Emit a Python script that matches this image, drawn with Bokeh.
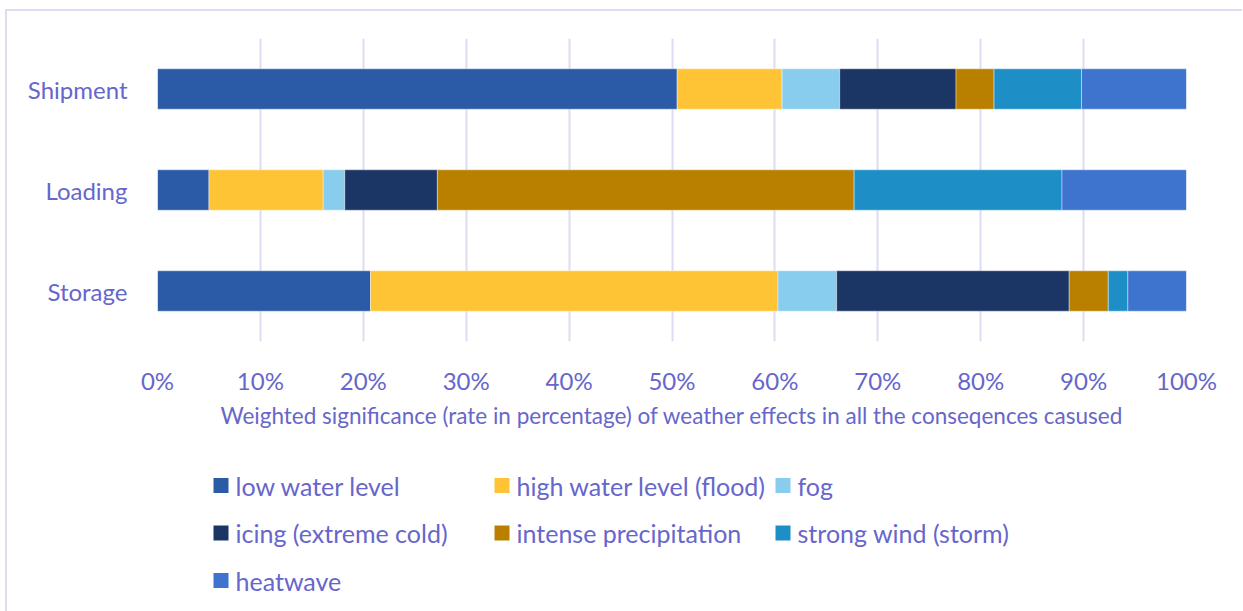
from bokeh.plotting import figure
from bokeh.layouts import column
from bokeh.models import ColumnDataSource, FactorRange, Range1d, FixedTicker, CustomJSTickFormatter
from bokeh.core.properties import value
from bokeh.embed import file_html
from bokeh.resources import INLINE

# Stages of the transport chain (bottom to top)
categories = ["Storage", "Loading", "Shipment"]

# Weighted share (%) of each weather effect per stage
low_water = [20.7, 5.0, 50.5]
high_water = [39.6, 11.1, 10.2]
fog = [5.7, 2.1, 5.6]
icing = [22.6, 9.0, 11.3]
intense_precip = [3.8, 40.5, 3.7]
strong_wind = [1.9, 20.2, 8.5]
heatwave = [5.7, 12.1, 10.2]

series_names = ["low water level", "high water level (flood)", "fog",
                "icing (extreme cold)", "intense precipitation",
                "strong wind (storm)", "heatwave"]
series_keys = ["low", "high", "fog", "icing", "precip", "wind", "heat"]
series_colors = ["#2B5BA7", "#FFC336", "#89CDEE", "#1B3564",
                 "#B98000", "#1E8FC6", "#3E73CE"]

x_ticks = [0, 10, 20, 30, 40, 50, 60, 70, 80, 90, 100]

TEXT = "#6666CC"
GRID = "#DCDCF2"
FONT = "Lato"

source = ColumnDataSource(dict(
    cat=categories, low=low_water, high=high_water, fog=fog, icing=icing,
    precip=intense_precip, wind=strong_wind, heat=heatwave,
))

p = figure(
    width=1235, height=440,
    y_range=FactorRange(factors=categories, range_padding=0),
    x_range=Range1d(0, 100),
    output_backend="svg", toolbar_location=None,
    min_border_left=150, min_border_right=56,
    min_border_top=27, min_border_bottom=110,
)
p.outline_line_color = None
p.background_fill_color = "white"
p.border_fill_color = "white"

p.hbar_stack(series_keys, y="cat", height=0.4, color=series_colors,
             line_color="white", line_width=0.8, line_alpha=0.5,
             source=source)

# Horizontal value axis
p.xaxis.ticker = FixedTicker(ticks=x_ticks)
p.xaxis.formatter = CustomJSTickFormatter(code="return tick.toFixed(0) + '%';")
p.xaxis.axis_line_color = None
p.xaxis.major_tick_line_color = None
p.xaxis.minor_tick_line_color = None
p.xaxis.major_tick_out = 0
p.xaxis.major_tick_in = 0
p.xaxis.major_label_standoff = 24
p.xaxis.major_label_text_font = FONT
p.xaxis.major_label_text_font_size = "24px"
p.xaxis.major_label_text_color = TEXT
p.xaxis.axis_label = "Weighted significance (rate in percentage) of weather effects in all the conseqences casused"
p.xaxis.axis_label_text_font = FONT
p.xaxis.axis_label_text_font_size = "22.5px"
p.xaxis.axis_label_text_font_style = "normal"
p.xaxis.axis_label_text_color = TEXT
p.xaxis.axis_label_standoff = 4

# Category axis
p.yaxis.axis_line_color = None
p.yaxis.major_tick_line_color = None
p.yaxis.major_tick_out = 0
p.yaxis.major_tick_in = 0
p.yaxis.major_label_standoff = 30
p.yaxis.major_label_text_font = FONT
p.yaxis.major_label_text_font_size = "24px"
p.yaxis.major_label_text_color = TEXT

p.ygrid.grid_line_color = None
p.xgrid.grid_line_color = GRID
p.xgrid.grid_line_width = 2

# Legend panel: three columns of swatches with labels.
# Its frame lines up with the chart frame above (page x 158..1187),
# so the ranges are set to page pixel coordinates.
lg = figure(
    width=1235, height=160,
    x_range=Range1d(158, 1187), y_range=Range1d(611, 451),
    output_backend="svg", toolbar_location=None,
    min_border_left=150, min_border_right=56, min_border_top=0, min_border_bottom=0,
)
lg.axis.visible = False
lg.grid.visible = False
lg.outline_line_color = None
lg.background_fill_color = "white"
lg.border_fill_color = "white"

ncols = 3
sw_x, sw_y, txt_x = [], [], []
for i in range(len(series_names)):
    r, c = divmod(i, ncols)
    sw_x.append(221.5 + 281 * c)
    sw_y.append(485 + 47.5 * r)
    txt_x.append(236 + 281 * c)

leg_src = ColumnDataSource(dict(sx=sw_x, sy=sw_y, tx=txt_x,
                                name=series_names, color=series_colors))
lg.rect(x="sx", y="sy", width=15, height=15, width_units="screen",
        height_units="screen", fill_color="color", line_color=None,
        source=leg_src)
lg.text(x="tx", y="sy", text="name", text_font=value(FONT),
        text_font_size="25px", text_color=TEXT, text_baseline="middle",
        text_align="left", source=leg_src)

layout = column(
    p, lg, spacing=0,
    margin=(9, 0, 0, 5),
    styles={"border-left": "2px solid #DCDCF2", "border-top": "2px solid #DCDCF2"},
)

open("out.html", "w").write(file_html(layout, INLINE))
